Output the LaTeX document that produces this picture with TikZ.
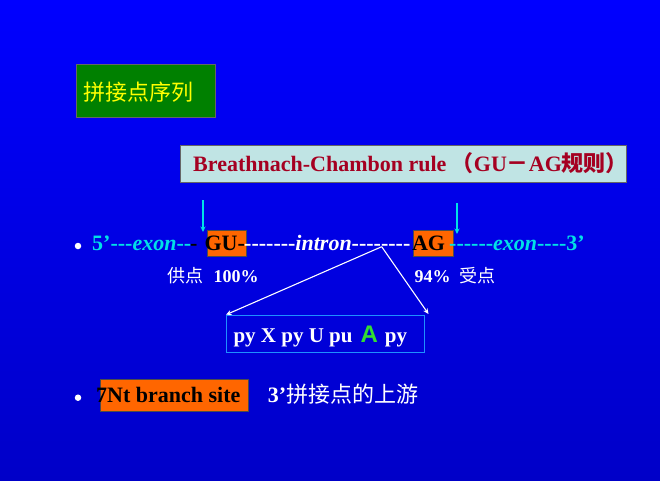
\documentclass[tikz,border=0pt]{standalone}
\usepackage{fontspec}
\setmainfont{Liberation Serif}[Ligatures=TeXOff]
\newfontfamily\cjk{Noto Sans CJK SC}
\newfontfamily\arialf{Liberation Sans}
\usetikzlibrary{arrows.meta}
\definecolor{bgtop}{RGB}{0,0,255}
\definecolor{bgbot}{RGB}{0,0,200}
\definecolor{cy}{RGB}{0,225,230}
\definecolor{org}{RGB}{255,102,0}
\definecolor{grn}{RGB}{0,128,0}
\definecolor{ylw}{RGB}{255,255,0}
\definecolor{lb}{RGB}{192,228,228}
\definecolor{dred}{RGB}{165,0,33}
\definecolor{pyb}{RGB}{30,144,255}
\definecolor{ga}{RGB}{51,220,51}
\begin{document}
\begin{tikzpicture}[x=1pt,y=-1pt,
  txt/.style={inner sep=0pt, anchor=base west, font=\fontsize{22}{26}\selectfont\bfseries},
  lbl/.style={inner sep=0pt, anchor=base west, text=white, font=\fontsize{18}{22}\selectfont\bfseries},
  box/.style={inner sep=0pt, anchor=north west},
  orgbox/.style={box, fill=org, draw=black!70, line width=0.5pt},
  cyarrow/.style={draw=cy, line width=1.3pt, -{Stealth[length=5.5pt,width=5pt]}},
  wharrow/.style={draw=white, line width=1.1pt, -{Stealth[length=5.5pt,width=5pt]}},
  dot/.style={circle, fill=white, inner sep=0pt, minimum size=6.5pt}]
\useasboundingbox (0,0) rectangle (660,480);
\shade[top color=bgtop, bottom color=bgbot] (0,0) rectangle (660,480);

% title box
\node[box, fill=grn, draw=black!60, line width=0.6pt, minimum width=139pt, minimum height=53pt] (title) at (76,64) {};
\node[inner sep=0pt, anchor=west, text=ylw, font=\cjk\fontsize{22}{26}\selectfont] (titletxt) at (83,92) {拼接点序列};

% rule box
\node[box, fill=lb, draw=black!60, line width=0.6pt, minimum width=446pt, minimum height=37pt] (rule) at (180,145) {};
\node[txt, text=dred] (ruletxt) at (193,171) {Breathnach-Chambon rule {\cjk （}GU{\cjk －}AG{\cjk\bfseries 规则）}};

% orange boxes
\node[orgbox, minimum width=39pt, minimum height=26pt] (gubox) at (206.6,230) {};
\node[orgbox, minimum width=39.5pt, minimum height=26pt] (agbox) at (413,230) {};

% main line
\node[dot] (b1) at (78,246) {};
\node[txt, text=cy] (ex1) at (92,250.5) {5’---{\itshape exon}--};
\node[txt, text=black] (bd) at (190,250.5) {-};
\node[txt, text=black] (gu) at (204.3,250.5) {GU-};
\node[txt, text=white] (intr) at (244,250.5) {-------{\itshape intron}--------};
\node[txt, text=black] (ag) at (411.8,250.5) {AG};
\node[txt, text=cy] (ex2) at (449,250.5) {------{\itshape exon}----3’};

% cyan arrows
\coordinate (a1s) at (203,200);
\coordinate (a1e) at (203,232);
\coordinate (a2s) at (457,203);
\coordinate (a2e) at (457,234);
\draw[cyarrow] (a1s) -- (a1e);
\draw[cyarrow] (a2s) -- (a2e);

% labels
\node[lbl] (donor) at (167.3,282) {{\cjk\mdseries 供点}\hspace{10pt}100\%};
\node[lbl] (acc) at (414.3,282) {94\%\hspace{9pt}{\cjk\mdseries 受点}};

% branch box
\node[box, draw=pyb, line width=0.9pt, minimum width=198pt, minimum height=37.3pt] (pybox) at (226,314.7) {};
\node[txt, text=white, font=\fontsize{21}{25}\selectfont\bfseries] (pytxt) at (233.3,342.5) {py X py U pu\hspace{8pt}{\arialf\fontsize{24}{28}\selectfont\textcolor{ga}{A}}\hspace{7pt}py};

% white arrows
\coordinate (br) at (381.7,246.7);
\coordinate (pyr) at (428.5,314);
\draw[wharrow] (br) -- (pybox.north west);
\draw[wharrow] (br) -- (pyr);

% second bullet
\node[dot] (b2) at (78,397.7) {};
\node[orgbox, minimum width=148pt, minimum height=31.4pt] (nt) at (99.7,379.3) {};
\node[txt, text=black] (nttxt) at (96,402.5) {7Nt branch site};
\node[txt, text=white] (up) at (267.7,402.5) {3’{\cjk\mdseries 拼接点的上游}};
\end{tikzpicture}
\end{document}
